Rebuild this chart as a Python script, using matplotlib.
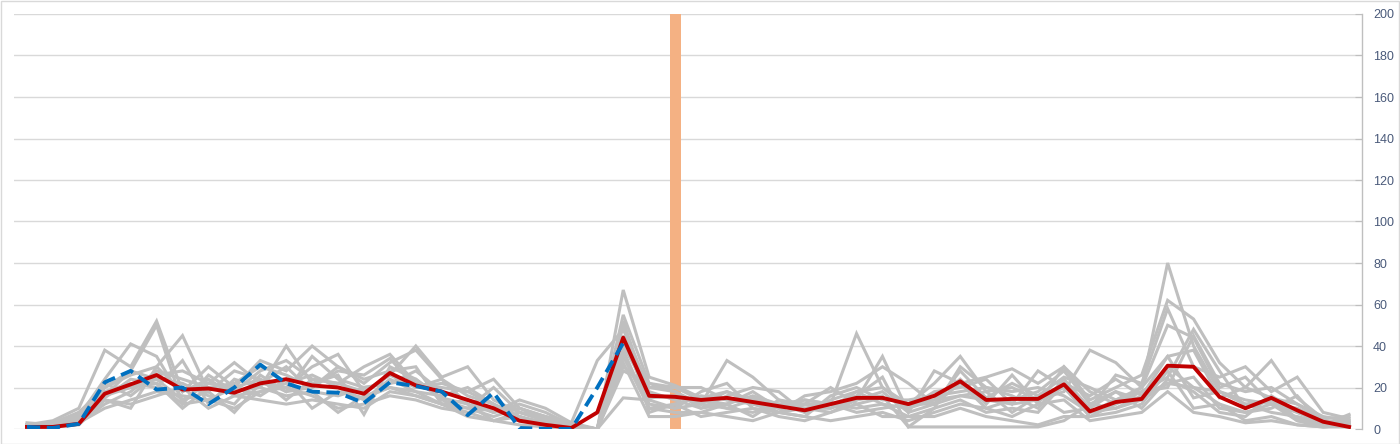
import numpy as np
import matplotlib
matplotlib.use("Agg")
import matplotlib.pyplot as plt
from matplotlib.patches import Rectangle

weeks = list(range(1, 53))

red_avg = [1, 1, 2.5, 17, 21.5, 26, 19, 19.5, 17.5, 22, 24, 21, 20,
           17, 27, 21, 18, 14, 10, 4, 2, 0.5, 8, 44, 16, 15.5,
           14, 15, 13, 11, 9, 12, 15, 15, 12, 16, 23, 14, 14.5,
           14.5, 21.5, 8.5, 13, 14.5, 30.5, 30, 15.5, 10, 15, 9, 3.5, 1]

blue_part = [1, 0.5, 2.5, 22.5, 28, 19, 20, 12, 20, 31, 22, 18, 17.5,
             12.5, 22.5, 20.7, 18, 6.7, 17.5, 0.5, 0, 0, 20, 41.5]

marker_week = 26
marker_value = 200

g1 = [2, 4, 10, 38, 30, 52, 18, 30, 20, 33, 28, 40, 30,
      22, 32, 38, 24, 16, 12, 6, 3, 1, 0, 67, 25, 21,
      15, 18, 12, 10, 14, 12, 46, 20, 12, 22, 35, 18, 20,
      14, 18, 38, 32, 20, 80, 40, 18, 14, 12, 8, 3, 2]
g2 = [1, 2, 6, 24, 41, 35, 14, 22, 32, 22, 20, 30, 36,
      18, 26, 40, 25, 30, 14, 8, 4, 2, 0, 55, 22, 18,
      12, 33, 25, 14, 10, 10, 14, 35, 8, 28, 22, 25, 29,
      22, 30, 14, 20, 26, 62, 53, 32, 20, 33, 15, 5, 6]
g3 = [0, 3, 8, 20, 28, 50, 12, 26, 18, 28, 33, 24, 22,
      30, 36, 22, 20, 18, 24, 10, 6, 3, 33, 48, 20, 20,
      20, 14, 15, 12, 14, 12, 16, 25, 1, 10, 30, 20, 16,
      10, 24, 10, 26, 22, 58, 30, 25, 30, 18, 25, 8, 5]
g4 = [2, 2, 5, 14, 10, 30, 45, 18, 28, 24, 18, 35, 24,
      20, 22, 28, 18, 14, 8, 12, 8, 2, 0, 45, 12, 10,
      18, 22, 10, 8, 16, 18, 22, 30, 22, 12, 28, 15, 22,
      16, 25, 20, 14, 20, 50, 44, 20, 25, 12, 10, 4, 3]
g5 = [1, 1, 4, 18, 22, 20, 33, 12, 24, 20, 40, 22, 26,
      7, 30, 24, 15, 12, 8, 14, 10, 3, 0, 40, 18, 14,
      10, 16, 20, 18, 8, 14, 18, 12, 10, 18, 20, 24, 12,
      28, 20, 8, 10, 16, 35, 38, 15, 20, 15, 12, 6, 4]
g6 = [3, 2, 8, 16, 28, 24, 22, 16, 12, 26, 18, 20, 30,
      24, 28, 30, 12, 10, 20, 8, 4, 1, 0, 35, 10, 8,
      8, 12, 18, 10, 12, 20, 12, 15, 12, 14, 24, 12, 26,
      12, 30, 18, 12, 18, 25, 48, 28, 10, 15, 5, 2, 7]
g7 = [2, 1, 3, 12, 18, 28, 24, 20, 22, 30, 26, 20, 28,
      26, 34, 20, 22, 18, 12, 6, 2, 0, 0, 28, 22, 20,
      14, 10, 8, 12, 10, 8, 14, 18, 8, 12, 22, 10, 14,
      18, 28, 12, 18, 14, 30, 20, 12, 8, 10, 16, 2, 3]
g8 = [1, 2, 4, 20, 26, 30, 18, 24, 16, 18, 22, 26, 20,
      14, 24, 18, 16, 20, 12, 4, 3, 0, 0, 50, 8, 12,
      16, 14, 12, 8, 6, 16, 20, 14, 14, 16, 18, 20, 18,
      20, 16, 8, 14, 18, 20, 45, 22, 18, 20, 12, 4, 2]
g9 = [2, 3, 6, 18, 20, 24, 14, 18, 8, 22, 30, 18, 16,
      20, 22, 24, 14, 10, 6, 10, 5, 2, 0, 52, 15, 16,
      12, 18, 14, 10, 12, 10, 18, 20, 10, 14, 16, 14, 12,
      14, 20, 6, 12, 20, 35, 15, 18, 12, 8, 6, 3, 4]
g10 = [1, 1, 5, 15, 24, 22, 10, 20, 18, 20, 16, 18, 8,
       16, 20, 18, 12, 8, 4, 6, 2, 0, 0, 30, 20, 18,
       10, 12, 6, 14, 12, 12, 10, 12, 6, 10, 14, 8, 10,
       8, 22, 16, 24, 16, 22, 25, 10, 8, 12, 4, 1, 2]
g11 = [1, 2, 7, 22, 16, 26, 28, 22, 20, 24, 14, 24, 22,
       18, 26, 20, 24, 12, 4, 2, 1, 0, 0, 15, 14, 10,
       12, 10, 14, 8, 10, 12, 8, 10, 12, 12, 16, 18, 8,
       16, 8, 10, 18, 10, 24, 18, 8, 6, 16, 8, 3, 3]
g12 = [2, 1, 3, 10, 14, 18, 16, 14, 10, 18, 20, 16, 10,
       12, 16, 14, 10, 8, 10, 4, 2, 0, 0, 38, 10, 12,
       6, 8, 10, 6, 4, 8, 12, 6, 6, 6, 10, 6, 4,
       2, 6, 6, 8, 12, 28, 10, 12, 4, 6, 2, 1, 1]
g13 = [0, 1, 2, 14, 12, 16, 20, 10, 16, 14, 12, 14, 12,
       10, 18, 16, 12, 6, 4, 8, 6, 1, 0, 32, 6, 6,
       8, 6, 4, 8, 6, 4, 6, 8, 4, 8, 12, 10, 6,
       12, 14, 4, 6, 8, 18, 8, 6, 3, 4, 2, 1, 2]
g14 = [1, 2, 4, 16, 20, 22, 12, 14, 20, 16, 24, 10, 18,
       15, 20, 16, 12, 14, 8, 10, 6, 2, 0, 42, 16, 15,
       14, 12, 16, 12, 8, 12, 14, 16, 1, 1, 1, 1, 1,
       1, 4, 12, 10, 14, 22, 20, 18, 12, 14, 4, 2, 1]

gray_series = [g1, g2, g3, g4, g5, g6, g7, g8, g9, g10, g11, g12, g13, g14]

yticks = [0, 20, 40, 60, 80, 100, 120, 140, 160, 180, 200]

fig = plt.figure(figsize=(14, 4.44), dpi=100)
fig.patches.append(Rectangle((0.0007, 0.001), 0.9986, 0.997, transform=fig.transFigure,
                             fill=False, edgecolor="#D9D9D9", linewidth=1.0))
ax = fig.add_axes([0.010, 1 - 429 / 444, 0.9629, (429 - 14) / 444])

x = np.arange(len(weeks))
ax.bar([weeks.index(marker_week)], [marker_value], width=0.42, color="#F4B183", zorder=1)
for g in gray_series:
    ax.plot(x, g, color="#BFBFBF", linewidth=2.2, solid_joinstyle="miter", zorder=2)
ax.plot(x, red_avg, color="#C00000", linewidth=2.8, zorder=4)
ax.plot(np.arange(len(blue_part)), blue_part, color="#0070C0", linewidth=2.8,
        linestyle=(0, (3.4, 1.7)), zorder=5)

ax.set_xlim(-0.5, len(weeks) - 0.5)
ax.set_ylim(0, 200)
ax.set_yticks(yticks)
ax.set_xticks([])
ax.yaxis.tick_right()
ax.tick_params(axis="y", direction="in", length=5, color="#BFBFBF", labelsize=9,
               labelcolor="#4A5A7A", pad=8)
for lab in ax.get_yticklabels():
    lab.set_fontfamily("Liberation Sans")
ax.grid(axis="y", color="#D9D9D9", linewidth=1.0, zorder=0)
ax.set_axisbelow(True)
for s in ["top", "left", "bottom"]:
    ax.spines[s].set_visible(False)
ax.spines["right"].set_color("#BFBFBF")
ax.spines["right"].set_linewidth(1.0)

fig.savefig("out.png", dpi=100)
